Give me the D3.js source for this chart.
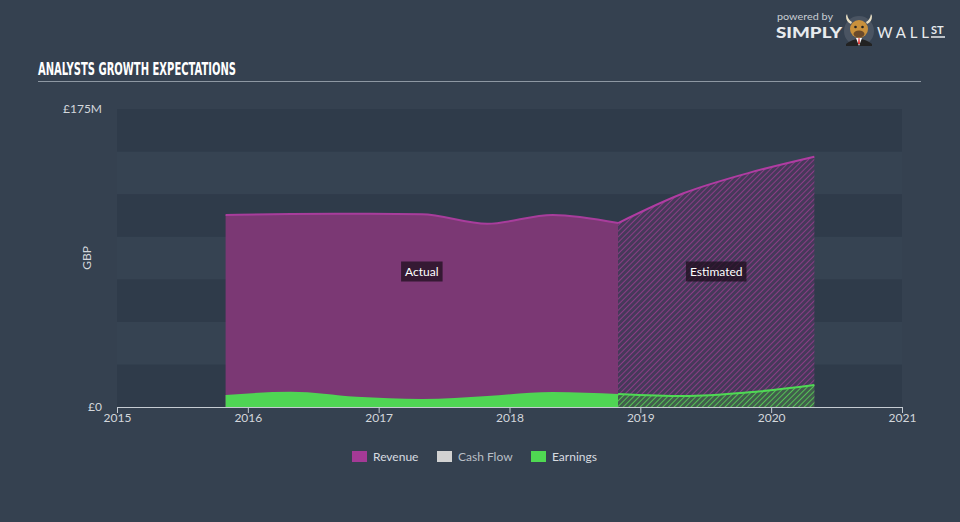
<!DOCTYPE html>
<html>
<head>
<meta charset="utf-8">
<script src="https://cdn.jsdelivr.net/npm/d3@7/dist/d3.min.js"></script>
<style>
  html, body { margin: 0; padding: 0; background: #354150; }
  svg { display: block; }
</style>
</head>
<body>
<svg id="chart" width="960" height="522"></svg>
<script>
// ---- data ----
const years = [2015, 2016, 2017, 2018, 2019, 2020, 2021];
const yTickValues = [0, 175];
const yTickLabels = ["£0", "£175M"];
const actualDates = [2015.83, 2016.33, 2016.83, 2017.33, 2017.83, 2018.33, 2018.83];
const actualRevenue = [112.7, 113.3, 113.5, 113.2, 107.6, 112.8, 108.0];
const actualEarnings = [7.0, 8.9, 6.0, 4.7, 6.5, 8.8, 7.6];
const estDates = [2018.83, 2019.33, 2019.83, 2020.33];
const estRevenue = [108.0, 125.5, 137.5, 147.0];
const estEarnings = [7.6, 6.4, 8.6, 12.9];
const legendItems = ["Revenue", "Cash Flow", "Earnings"];
const legendColors = ["#a43a96", "#d2d2d2", "#4fd952"];

const svg = d3.select("#chart");
const W = 960, H = 522;
const plot = { left: 117, right: 902, top: 109, bottom: 407 };
const font = "Lato, 'Open Sans', sans-serif";

svg.append("rect").attr("width", W).attr("height", H).attr("fill", "#354150");

const x = d3.scaleLinear().domain([2015, 2021]).range([plot.left, plot.right]);
const y = d3.scaleLinear().domain([0, 175]).range([plot.bottom, plot.top]);

// background bands
const bandVals = d3.range(0, 175, 25);
svg.append("g").selectAll("rect").data(bandVals).join("rect")
  .attr("x", plot.left).attr("width", plot.right - plot.left)
  .attr("y", d => y(d + 25)).attr("height", d => y(d) - y(d + 25))
  .attr("fill", (d, i) => i % 2 === 0 ? "#2f3b4a" : "#364352");

// patterns
const defs = svg.append("defs");
function hatch(id, bg, line) {
  const p = defs.append("pattern").attr("id", id).attr("patternUnits", "userSpaceOnUse")
    .attr("width", 4).attr("height", 4).attr("patternTransform", "rotate(45)");
  p.append("rect").attr("width", 4).attr("height", 4).attr("fill", bg);
  p.append("line").attr("x1", 0).attr("y1", 0).attr("x2", 0).attr("y2", 4)
    .attr("stroke", line).attr("stroke-width", 2);
}
hatch("hatchRev", "#46395a", "#8a3d85");
hatch("hatchEarn", "#415e4c", "#55c056");

const curve = d3.curveMonotoneX;
const actual = actualDates.map((d, i) => ({ d, r: actualRevenue[i], e: actualEarnings[i] }));
const est = estDates.map((d, i) => ({ d, r: estRevenue[i], e: estEarnings[i] }));

const areaR = d3.area().curve(curve).x(p => x(p.d)).y0(y(0)).y1(p => y(p.r));
const lineR = d3.line().curve(curve).x(p => x(p.d)).y(p => y(p.r));
const areaE = d3.area().curve(curve).x(p => x(p.d)).y0(y(0)).y1(p => y(p.e));
const lineE = d3.line().curve(curve).x(p => x(p.d)).y(p => y(p.e));

// actual
svg.append("path").datum(actual).attr("d", areaR).attr("fill", "#7b3874");
svg.append("path").datum(actual).attr("d", lineR).attr("fill", "none").attr("stroke", "#a83d9c").attr("stroke-width", 2);
svg.append("path").datum(actual).attr("d", areaE).attr("fill", "#4fd554");
// estimated
svg.append("path").datum(est).attr("d", areaR).attr("fill", "url(#hatchRev)");
svg.append("path").datum(est).attr("d", lineR).attr("fill", "none").attr("stroke", "#b03ca2").attr("stroke-width", 2);
svg.append("path").datum(est).attr("d", areaE).attr("fill", "url(#hatchEarn)");
svg.append("path").datum(est).attr("d", lineE).attr("fill", "none").attr("stroke", "#4fd954").attr("stroke-width", 2);

// Actual / Estimated labels
function tag(text, cx, cy) {
  const g = svg.append("g");
  const t = g.append("text").attr("x", cx).attr("y", cy + 4).attr("text-anchor", "middle")
    .attr("font-family", font).attr("font-size", 12).attr("fill", "#ffffff").text(text);
  const bb = t.node().getBBox();
  g.insert("rect", "text").attr("x", bb.x - 4).attr("y", cy - 10).attr("width", bb.width + 8).attr("height", 20)
    .attr("fill", "rgba(30,15,30,0.75)");
}
tag("Actual", (x(actualDates[0]) + x(actualDates[actualDates.length - 1])) / 2, 271.5);
tag("Estimated", (x(estDates[0]) + x(estDates[estDates.length - 1])) / 2, 271.5);

// x axis
const xAxis = d3.axisBottom(x).tickValues(years).tickFormat(d3.format("d")).tickSize(6).tickSizeOuter(0);
const gx = svg.append("g").attr("transform", `translate(0,${plot.bottom})`).call(xAxis);
gx.select(".domain").attr("stroke", "#c5cbd2");
gx.selectAll(".tick line").attr("stroke", "#c5cbd2");
gx.selectAll(".tick text").attr("fill", "#d3d7dc").attr("font-family", font).attr("font-size", 12).attr("dy", "0.5em");

// y labels
svg.append("g").selectAll("text").data(yTickValues).join("text")
  .attr("x", 102).attr("y", d => y(d) + 4).attr("text-anchor", "end")
  .attr("font-family", font).attr("font-size", 12).attr("fill", "#d3d7dc")
  .text((d, i) => yTickLabels[i]);
svg.append("text").attr("transform", "translate(91,258) rotate(-90)").attr("text-anchor", "middle")
  .attr("font-family", font).attr("font-size", 12).attr("fill", "#d3d7dc").text("GBP");

// title
svg.append("text").attr("x", 38).attr("y", 75).attr("font-family", "'Liberation Sans Narrow', 'DejaVu Sans Condensed', sans-serif")
  .attr("font-weight", "bold").attr("font-size", 17).attr("fill", "#ffffff")
  .attr("textLength", 198).attr("lengthAdjust", "spacingAndGlyphs").text("ANALYSTS GROWTH EXPECTATIONS");
svg.append("line").attr("x1", 38).attr("x2", 921).attr("y1", 81.5).attr("y2", 81.5).attr("stroke", "#8e98a3").attr("stroke-width", 1);

// legend
const legend = svg.append("g");
const legendX = [352, 437, 531];
legendItems.forEach((name, i) => {
  legend.append("rect").attr("x", legendX[i]).attr("y", 451).attr("width", 15).attr("height", 11).attr("fill", legendColors[i]);
  legend.append("text").attr("x", legendX[i] + 21).attr("y", 461).attr("font-family", font).attr("font-size", 12)
    .attr("fill", i === 1 ? "#b9bfc6" : "#d8dce0").text(name);
});

// logo
const logo = svg.append("g");
logo.append("text").attr("x", 777).attr("y", 19.5).attr("font-family", font).attr("font-size", 10).attr("fill", "#c9ced4")
  .attr("textLength", 56).attr("lengthAdjust", "spacingAndGlyphs").text("powered by");
logo.append("text").attr("x", 776).attr("y", 38).attr("font-family", font).attr("font-weight", "900").attr("font-size", 15)
  .attr("fill", "#e8ebee").attr("textLength", 66).attr("lengthAdjust", "spacingAndGlyphs").text("SIMPLY");
logo.append("text").attr("x", 877).attr("y", 38).attr("font-family", font).attr("font-size", 15)
  .attr("fill", "#e8ebee").attr("textLength", 52).text("WALL");
logo.append("text").attr("x", 931).attr("y", 34).attr("font-family", font).attr("font-weight", "bold").attr("font-size", 11)
  .attr("fill", "#e8ebee").text("ST");
logo.append("line").attr("x1", 931).attr("x2", 945).attr("y1", 37).attr("y2", 37).attr("stroke", "#e8ebee").attr("stroke-width", 1.5);
// bull icon
logo.append("circle").attr("cx", 859).attr("cy", 31).attr("r", 15).attr("fill", "#4a5462");
logo.append("path").attr("d", "M846,44 Q859,34 872,44 L872,46 L846,46 Z").attr("fill", "#222");
logo.append("path").attr("d", "M856,38 L862,38 L859,46 Z").attr("fill", "#fff");
logo.append("path").attr("d", "M858.5,38 L859.5,38 L860,44 L858,44 Z").attr("fill", "#d33");
logo.append("path").attr("d", "M846,16 Q846,22 851,24 L852,22 Q848,20 847,14 Z").attr("fill", "#e9dfc4");
logo.append("path").attr("d", "M872,16 Q872,22 867,24 L866,22 Q870,20 871,14 Z").attr("fill", "#e9dfc4");
logo.append("ellipse").attr("cx", 859).attr("cy", 29).attr("rx", 9).attr("ry", 9).attr("fill", "#c9913c");
logo.append("ellipse").attr("cx", 859).attr("cy", 34).attr("rx", 5.5).attr("ry", 3.5).attr("fill", "#6b4a2a");
logo.append("circle").attr("cx", 855.5).attr("cy", 27).attr("r", 1.3).attr("fill", "#222");
logo.append("circle").attr("cx", 862.5).attr("cy", 27).attr("r", 1.3).attr("fill", "#222");
</script>
</body>
</html>
